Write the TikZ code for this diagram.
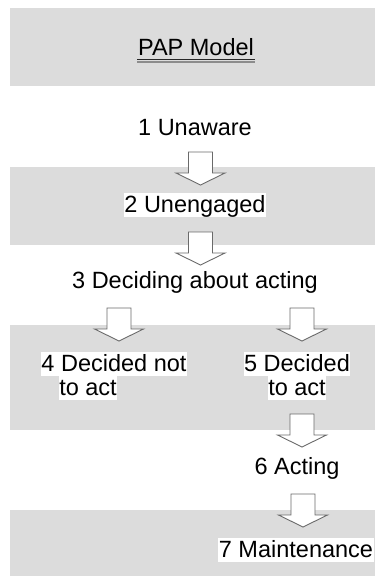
\documentclass[tikz,border=0pt]{standalone}
\usepackage{fontspec}
\setmainfont{Liberation Sans}
\begin{document}
\begin{tikzpicture}[x=1pt,y=-1pt,
  band/.style={fill=bandgray,draw=none},
  stage/.style={anchor=base,inner xsep=0.5pt,inner ysep=0pt,text height=19pt,text depth=4.5pt,
    font=\fontsize{23.5}{27}\selectfont},
  lit/.style={stage,fill=white},
  arrowline/.style={draw=arrowgray,line width=0.9pt,fill=white,line join=miter},
  pics/blockarrow/.style={code={
    \draw[arrowline] (-12,0) -- (12,0) -- (12,21) -- (24.5,21) -- (0,33)
      -- (-24.5,21) -- (-12,21) -- cycle;}}]
\definecolor{bandgray}{HTML}{DCDCDC}
\definecolor{arrowgray}{HTML}{6A6A6A}
\useasboundingbox (0,0) rectangle (375,586);

% shaded bands
\fill[band] (10,8)   rectangle (375,86);
\fill[band] (10,167) rectangle (375,245);
\fill[band] (10,325) rectangle (375,430);
\fill[band] (10,510) rectangle (375,576);

% title with heavy double underline
\node[stage] (title) at (196,56) {PAP Model};
\draw[line width=1.5pt,draw=black!85] (title.base west) ++(0,3.5) -- ([yshift=-3.5pt]title.base east);
\draw[line width=1.2pt,draw=black!45] (title.base west) ++(0,6) -- ([yshift=-6pt]title.base east);

% stages
\node[stage] (s1) at (195,135) {1 Unaware};
\node[lit]   (s2) at (195,212) {2 Unengaged};
\node[stage] (s3) at (195,288) {3 Deciding about acting};
\node[lit]   (s4a) at (114,371) {4 Decided not};
\node[lit]   (s4b) at (88,395) {to act};
\node[lit]   (s5a) at (297,371) {5 Decided};
\node[lit]   (s5b) at (297,395) {to act};
\node[stage] (s6) at (297,474) {6 Acting};
\node[lit]   (s7) at (296,557) {7 Maintenance};

% block arrows between stages
\pic at (200.5,152) {blockarrow};
\pic at (200.5,232) {blockarrow};
\pic at (119,308) {blockarrow};
\pic at (302,308) {blockarrow};
\pic at (302,414) {blockarrow};
\pic at (303,494) {blockarrow};
\end{tikzpicture}
\end{document}
